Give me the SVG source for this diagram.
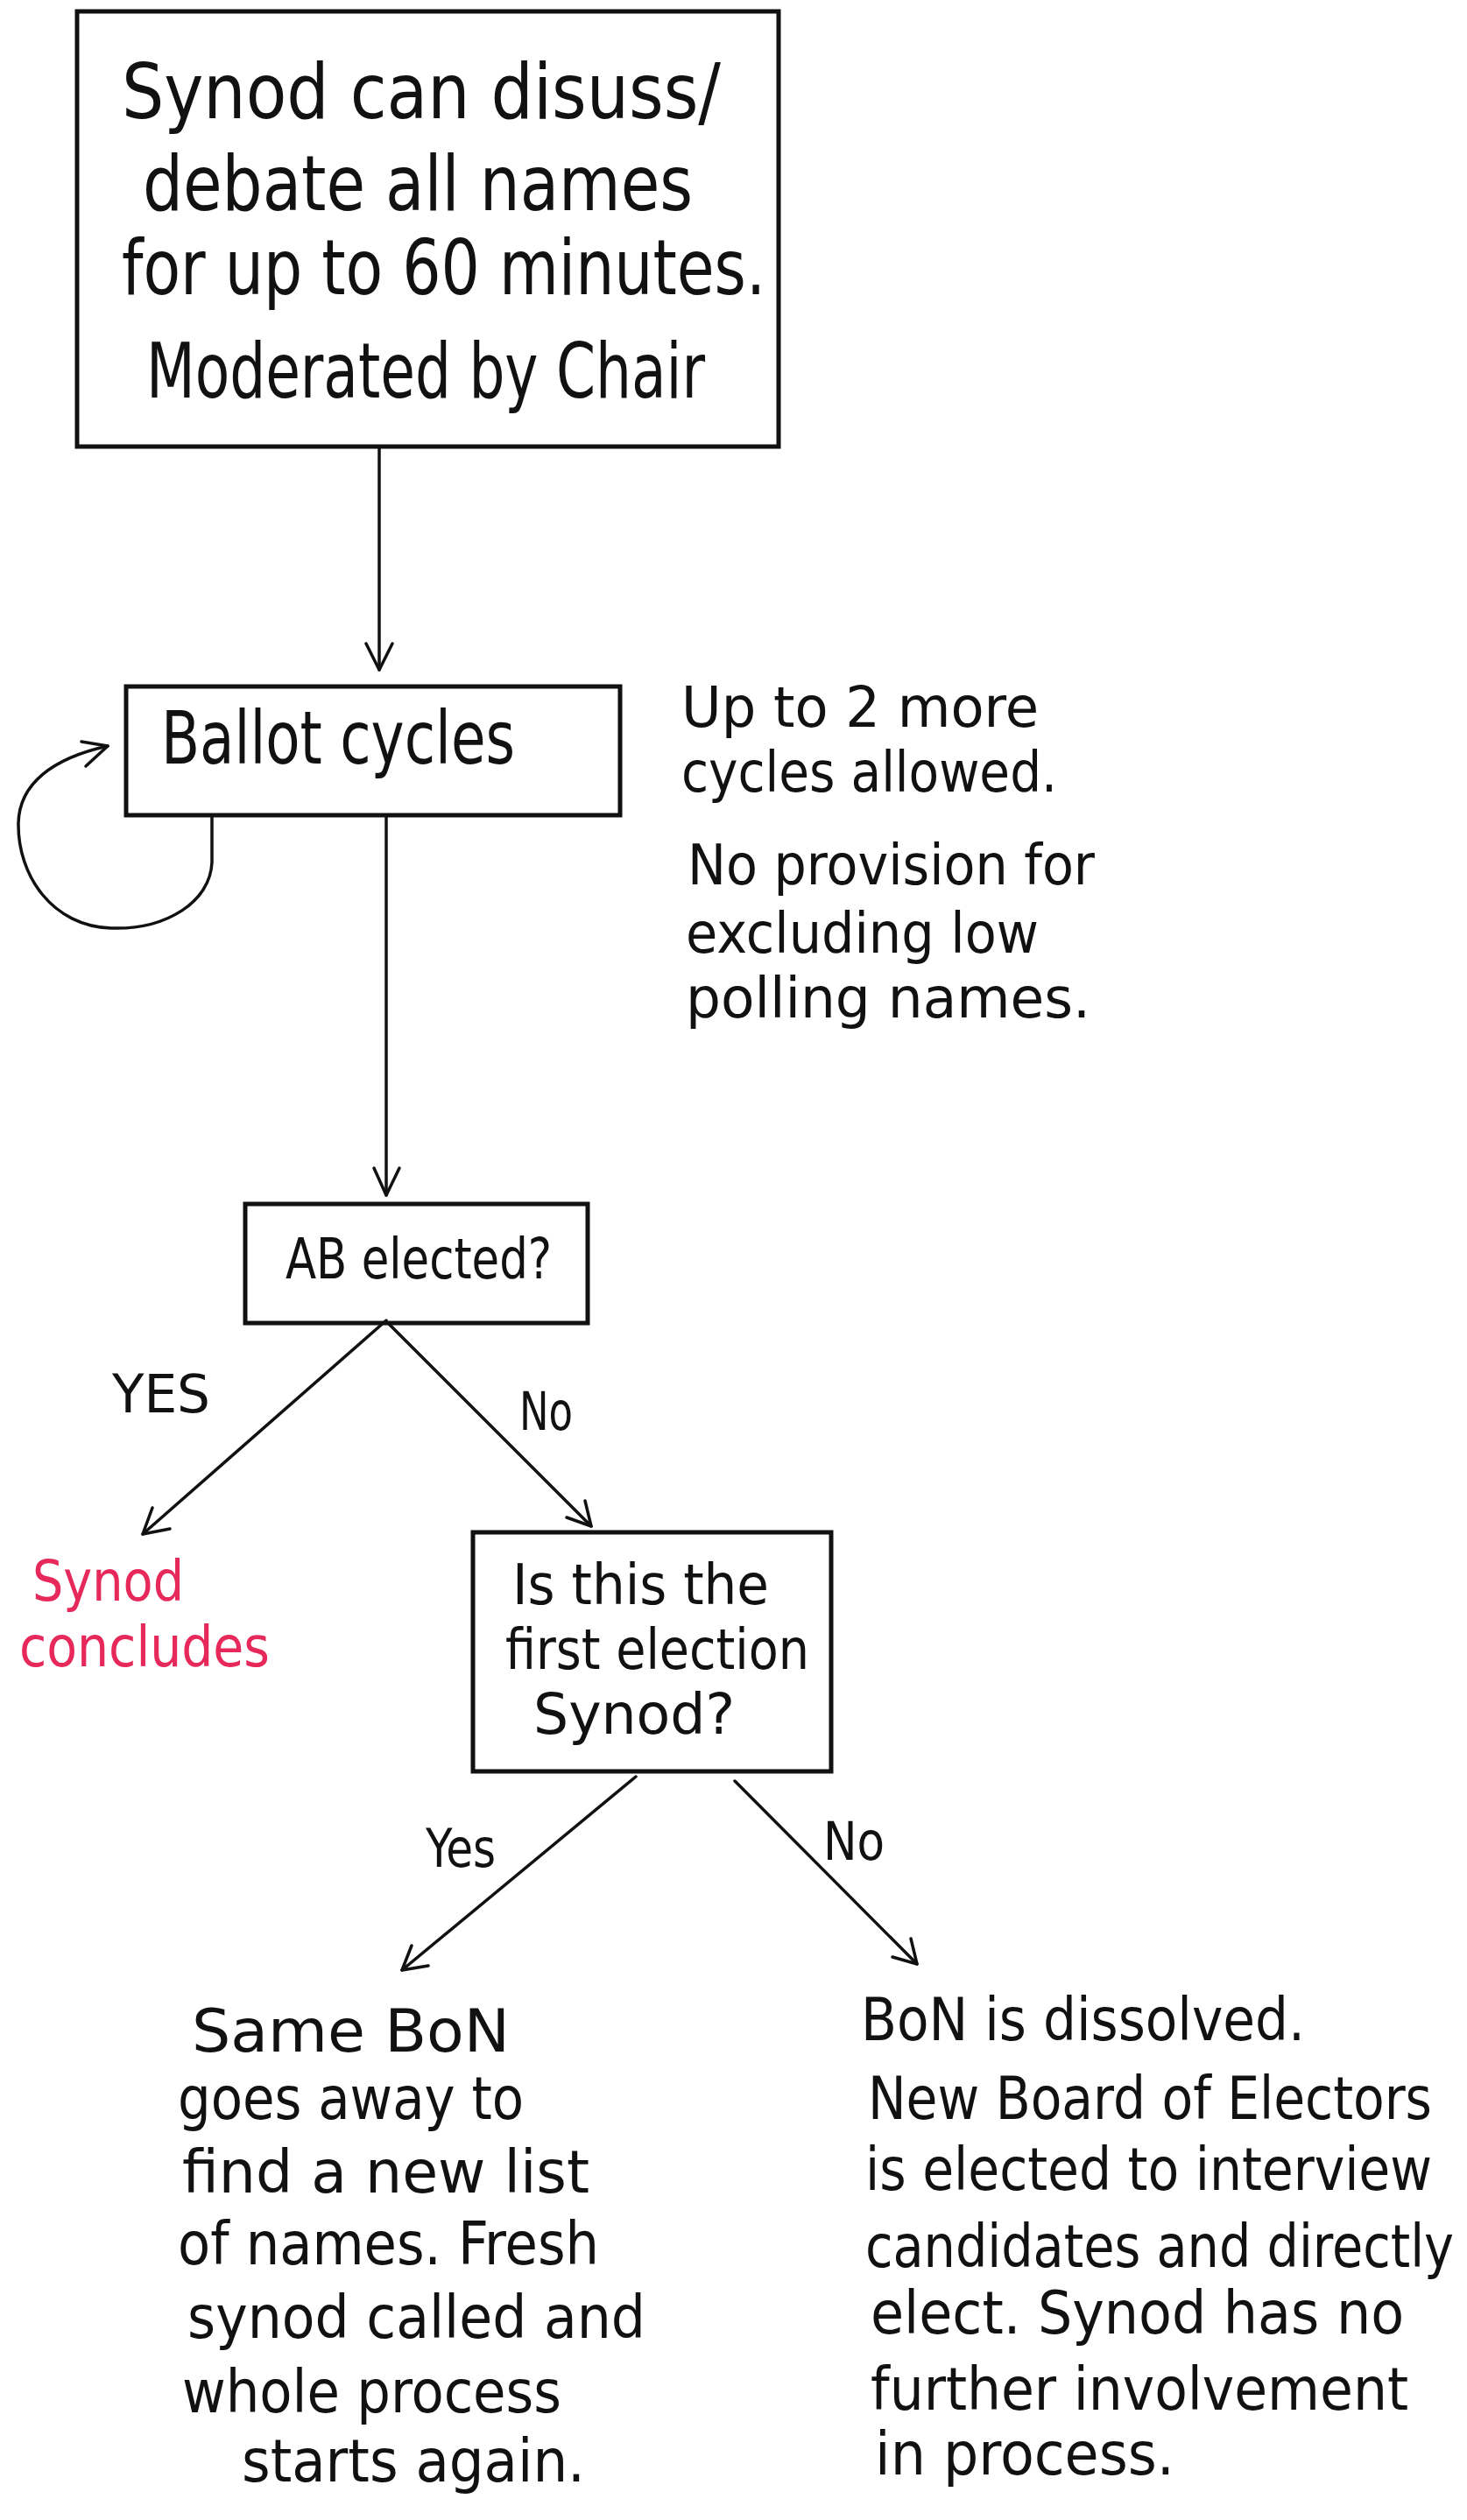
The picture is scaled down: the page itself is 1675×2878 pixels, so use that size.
<svg xmlns="http://www.w3.org/2000/svg" width="1675" height="2878" viewBox="0 0 1675 2878">
<style>
.bg{fill:#ffffff}
.box{fill:none;stroke:#111;stroke-width:5}
.ln{fill:none;stroke:#111;stroke-width:3.5;stroke-linecap:round;stroke-linejoin:round}
text{font-family:"Liberation Sans Narrow","DejaVu Sans Condensed","Liberation Sans",sans-serif;fill:#111}
.t95{font-size:88px}
.t85{font-size:84px}
.t75{font-size:68px}
.t70{font-size:64px}
.t62{font-size:60px}
.red{fill:#e6285a;font-size:64px}
</style>
<rect class="bg" x="0" y="0" width="1675" height="2878"/>
<g id="connectors">
<line class="ln" x1="433" y1="510" x2="433" y2="765"/>
<path class="ln" d="M418,735 L433,765 L448,735"/>
<line class="ln" x1="441" y1="931" x2="441" y2="1365"/>
<path class="ln" d="M427,1334 L441,1365 L456,1334"/>
<path class="ln" d="M242,932 L242,985 C240,1030 190,1062 127,1060 C60,1058 20,1000 21,940 C22,895 60,866 123,852"/>
<path class="ln" d="M93,847 L123,852 L98,875"/>
<line class="ln" x1="441" y1="1508" x2="163" y2="1752"/>
<path class="ln" d="M174,1722 L163,1752 L194,1746"/>
<line class="ln" x1="443" y1="1511" x2="675" y2="1743"/>
<path class="ln" d="M647,1733 L675,1743 L668,1714"/>
<line class="ln" x1="726" y1="2029" x2="459" y2="2250"/>
<path class="ln" d="M470,2222 L459,2250 L489,2245"/>
<line class="ln" x1="839" y1="2034" x2="1047" y2="2243"/>
<path class="ln" d="M1040,2214 L1047,2243 L1019,2235"/>
<text class="t62" x="128" y="1613" textLength="112" lengthAdjust="spacingAndGlyphs">YES</text>
<text class="t62" x="593" y="1633" textLength="61" lengthAdjust="spacingAndGlyphs">No</text>
<text class="t62" x="486" y="2132" textLength="80" lengthAdjust="spacingAndGlyphs">Yes</text>
<text class="t62" x="940" y="2124" textLength="70" lengthAdjust="spacingAndGlyphs">No</text>
</g>
<g id="node-discuss">
<rect class="box" x="88" y="13" width="801" height="497"/>
<text class="t95" x="139" y="135" textLength="684" lengthAdjust="spacingAndGlyphs">Synod can disuss/</text>
<text class="t95" x="163" y="240" textLength="628" lengthAdjust="spacingAndGlyphs">debate all names</text>
<text class="t95" x="139" y="336" textLength="735" lengthAdjust="spacingAndGlyphs">for up to 60 minutes.</text>
<text class="t95" x="167" y="454" textLength="638" lengthAdjust="spacingAndGlyphs">Moderated by Chair</text>
</g>
<g id="node-ballot">
<rect class="box" x="144" y="784" width="564" height="147"/>
<text class="t85" x="184" y="872" textLength="404" lengthAdjust="spacingAndGlyphs">Ballot cycles</text>
</g>
<g id="note-cycles">
<text class="t70" x="778" y="830" textLength="408" lengthAdjust="spacingAndGlyphs">Up to 2 more</text>
<text class="t70" x="778" y="904" textLength="429" lengthAdjust="spacingAndGlyphs">cycles allowed.</text>
<text class="t70" x="785" y="1010" textLength="465" lengthAdjust="spacingAndGlyphs">No provision for</text>
<text class="t70" x="783" y="1088" textLength="403" lengthAdjust="spacingAndGlyphs">excluding low</text>
<text class="t70" x="783" y="1162" textLength="462" lengthAdjust="spacingAndGlyphs">polling names.</text>
</g>
<g id="node-elected">
<rect class="box" x="280" y="1375" width="391" height="136"/>
<text class="t70" x="326" y="1460" textLength="304" lengthAdjust="spacingAndGlyphs">AB elected?</text>
</g>
<g id="node-concludes">
<text class="red" x="37" y="1828" textLength="173" lengthAdjust="spacingAndGlyphs">Synod</text>
<text class="red" x="22" y="1903" textLength="286" lengthAdjust="spacingAndGlyphs">concludes</text>
</g>
<g id="node-first">
<rect class="box" x="540" y="1750" width="409" height="273"/>
<text class="t70" x="585" y="1832" textLength="293" lengthAdjust="spacingAndGlyphs">Is this the</text>
<text class="t70" x="577" y="1906" textLength="347" lengthAdjust="spacingAndGlyphs">first election</text>
<text class="t70" x="609" y="1980" textLength="230" lengthAdjust="spacingAndGlyphs">Synod?</text>
</g>
<g id="node-same-bon">
<text class="t75" x="219" y="2343" textLength="363" lengthAdjust="spacingAndGlyphs">Same BoN</text>
<text class="t75" x="203" y="2420" textLength="395" lengthAdjust="spacingAndGlyphs">goes away to</text>
<text class="t75" x="208" y="2504" textLength="465" lengthAdjust="spacingAndGlyphs">find a new list</text>
<text class="t75" x="203" y="2586" textLength="481" lengthAdjust="spacingAndGlyphs">of names. Fresh</text>
<text class="t75" x="214" y="2670" textLength="523" lengthAdjust="spacingAndGlyphs">synod called and</text>
<text class="t75" x="208" y="2755" textLength="433" lengthAdjust="spacingAndGlyphs">whole process</text>
<text class="t75" x="276" y="2834" textLength="392" lengthAdjust="spacingAndGlyphs">starts again.</text>
</g>
<g id="node-dissolved">
<text class="t75" x="983" y="2330" textLength="507" lengthAdjust="spacingAndGlyphs">BoN is dissolved.</text>
<text class="t75" x="991" y="2420" textLength="644" lengthAdjust="spacingAndGlyphs">New Board of Electors</text>
<text class="t75" x="988" y="2501" textLength="647" lengthAdjust="spacingAndGlyphs">is elected to interview</text>
<text class="t75" x="988" y="2589" textLength="672" lengthAdjust="spacingAndGlyphs">candidates and directly</text>
<text class="t75" x="994" y="2665" textLength="609" lengthAdjust="spacingAndGlyphs">elect. Synod has no</text>
<text class="t75" x="994" y="2752" textLength="614" lengthAdjust="spacingAndGlyphs">further involvement</text>
<text class="t75" x="999" y="2826" textLength="342" lengthAdjust="spacingAndGlyphs">in process.</text>
</g>
</svg>
